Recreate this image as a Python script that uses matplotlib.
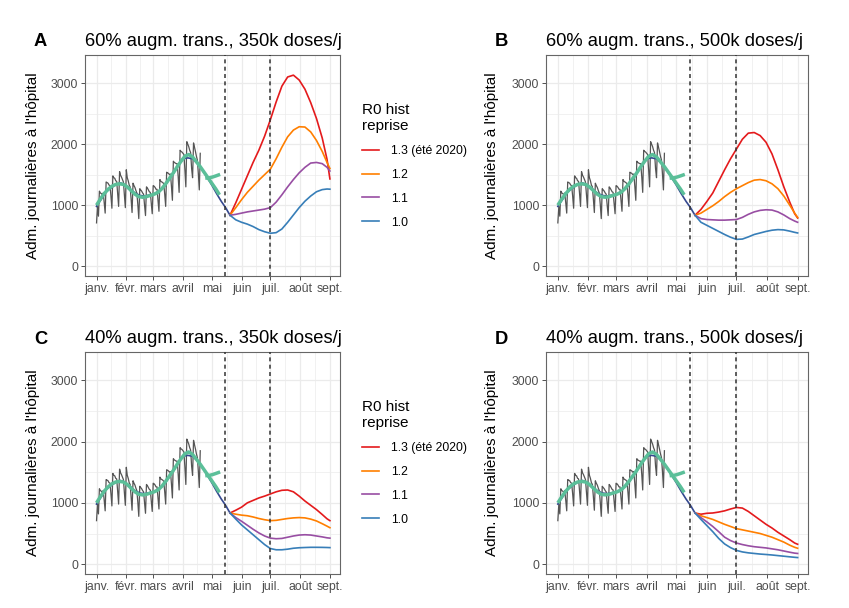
import matplotlib
matplotlib.use("Agg")
import matplotlib.pyplot as plt

plt.rcParams['font.family'] = ['Liberation Sans', 'DejaVu Sans']

# ---------------- data ----------------
month_days = [0, 31, 59, 90, 120, 151, 181, 212, 243]
month_labels = ["janv.", "févr.", "mars", "avril", "mai", "juin", "juil.", "août", "sept."]
y_ticks = [0, 1000, 2000, 3000]

obs_days = list(range(0, 109))
obs_values = [
    710, 980, 820, 1230, 1200, 1190, 1170,
    1200, 1040, 870, 1380, 1370, 1360, 1330,
    1320, 1150, 950, 1480, 1450, 1440, 1400,
    1390, 1190, 980, 1550, 1490, 1460, 1420,
    1380, 1170, 960, 1580, 1450, 1400, 1330,
    1300, 1100, 880, 1360, 1320, 1290, 1240,
    1200, 1010, 780, 1270, 1250, 1230, 1200,
    1180, 1000, 830, 1300, 1280, 1250, 1220,
    1210, 1030, 860, 1320, 1310, 1290, 1260,
    1260, 1080, 900, 1420, 1390, 1380, 1370,
    1350, 1180, 980, 1540, 1530, 1520, 1500,
    1510, 1310, 1080, 1720, 1700, 1690, 1680,
    1680, 1470, 1210, 1900, 1880, 1870, 1850,
    1830, 1580, 1300, 2040, 2000, 1960, 1900,
    1860, 1600, 1450, 2020, 1950, 1880, 1800,
    1740, 1520, 1250, 1850,
]

smooth_days = [0, 4, 8, 12, 16, 20, 24, 28, 32, 36, 40, 44, 48, 52, 56, 60, 64,
               68, 72, 76, 80, 84, 88, 92, 96, 100, 104, 108, 112, 116, 120, 124, 128]
smooth_values = [1000, 1100, 1190, 1260, 1310, 1340, 1350, 1340, 1300, 1240, 1180,
                 1140, 1130, 1140, 1160, 1180, 1210, 1270, 1350, 1440, 1530, 1630,
                 1720, 1800, 1830, 1790, 1710, 1630, 1540, 1450, 1360, 1270, 1170]
hook_days = [115, 118, 121, 124, 127]
hook_values = [1445, 1450, 1462, 1478, 1495]

fit_days = [0, 10, 20, 25, 30, 40, 45, 50, 60, 70, 80, 85, 90, 95, 100, 105, 110,
            115, 120, 125, 130, 134, 139]
fit_values = [980, 1220, 1340, 1365, 1330, 1200, 1160, 1150, 1180, 1290, 1520, 1650,
              1760, 1775, 1760, 1690, 1580, 1460, 1330, 1190, 1060, 970, 835]

proj_days = [139, 145, 151, 157, 163, 169, 175, 181, 187, 193, 199, 205, 211, 217,
             223, 229, 235, 240, 243]

scenario_labels = ["1.3 (été 2020)", "1.2", "1.1", "1.0"]
scenario_colors = ["#E41A1C", "#FF7F00", "#984EA3", "#377EB8"]

a_13 = [835, 1040, 1260, 1480, 1700, 1900, 2130, 2400, 2690, 2950, 3100, 3130, 3050, 2900, 2680, 2420, 2100, 1750, 1430]
a_12 = [835, 960, 1090, 1210, 1310, 1410, 1500, 1590, 1760, 1950, 2120, 2230, 2285, 2280, 2200, 2060, 1880, 1700, 1600]
a_11 = [835, 850, 870, 890, 905, 920, 935, 960, 1050, 1170, 1300, 1420, 1530, 1620, 1690, 1700, 1680, 1620, 1560]
a_10 = [835, 760, 720, 690, 650, 600, 565, 540, 550, 610, 720, 840, 960, 1065, 1150, 1220, 1255, 1265, 1262]

b_13 = [835, 930, 1060, 1200, 1390, 1580, 1760, 1920, 2080, 2180, 2190, 2140, 2030, 1840, 1580, 1300, 1050, 860, 790]
b_12 = [835, 870, 930, 990, 1060, 1140, 1210, 1270, 1320, 1370, 1410, 1420, 1400, 1350, 1270, 1150, 1000, 870, 800]
b_11 = [835, 780, 765, 760, 755, 755, 760, 765, 800, 850, 890, 915, 925, 920, 890, 840, 780, 740, 720]
b_10 = [835, 720, 670, 620, 570, 520, 475, 440, 445, 480, 520, 545, 570, 590, 600, 595, 575, 555, 545]

c_13 = [835, 880, 930, 1000, 1040, 1080, 1110, 1145, 1180, 1205, 1210, 1180, 1110, 1030, 960, 890, 810, 740, 710]
c_12 = [835, 815, 800, 790, 770, 745, 725, 710, 715, 730, 745, 755, 760, 755, 735, 705, 660, 620, 595]
c_11 = [835, 760, 700, 635, 570, 510, 460, 425, 415, 420, 440, 460, 475, 480, 475, 460, 445, 430, 425]
c_10 = [835, 735, 640, 560, 480, 400, 320, 255, 235, 235, 245, 260, 268, 272, 275, 275, 274, 272, 270]

d_13 = [835, 815, 830, 835, 850, 870, 900, 925, 915, 860, 790, 720, 650, 590, 520, 460, 400, 345, 325]
d_12 = [835, 790, 760, 730, 690, 650, 615, 580, 560, 540, 520, 500, 470, 440, 400, 360, 310, 275, 260]
d_11 = [835, 760, 690, 615, 530, 440, 385, 345, 320, 300, 285, 275, 265, 250, 235, 215, 195, 180, 175]
d_10 = [835, 730, 630, 530, 420, 330, 270, 225, 200, 185, 175, 165, 158, 150, 140, 130, 120, 112, 108]

vline_days = [134, 181]

panel_tags = ["A", "B", "C", "D"]
panel_titles = ["60% augm. trans., 350k doses/j", "60% augm. trans., 500k doses/j",
                "40% augm. trans., 350k doses/j", "40% augm. trans., 500k doses/j"]
panel_series = [[a_13, a_12, a_11, a_10], [b_13, b_12, b_11, b_10],
                [c_13, c_12, c_11, c_10], [d_13, d_12, d_11, d_10]]
ylabel = "Adm. journalières à l'hôpital"

# ---------------- layout ----------------
W, H = 849, 608
fig = plt.figure(figsize=(W / 100, H / 100), dpi=100)

boxes = [(85, 55, 340, 276), (546, 55, 808, 276), (85, 352, 340, 574), (546, 352, 808, 574)]
tag_pos = [(34, 46), (495, 46), (34, 343.5), (495, 343.5)]
legend_pos = [(362, 103), None, (362, 400), None]

green = "#5BBF99"
grid_c = "#EBEBEB"
minor_x = [(month_days[i] + month_days[i + 1]) / 2 for i in range(len(month_days) - 1)]

for k in range(4):
    l, t, r, b = boxes[k]
    ax = fig.add_axes([l / W, 1 - b / H, (r - l) / W, (b - t) / H])
    ax.set_xlim(-12, 253.5)
    ax.set_ylim(-160, 3460)
    ax.set_xticks(month_days)
    ax.set_xticklabels(month_labels)
    ax.set_yticks(y_ticks)
    ax.set_xticks(minor_x, minor=True)
    ax.set_yticks([500, 1500, 2500], minor=True)
    ax.grid(which="major", color=grid_c, lw=0.9)
    ax.grid(which="minor", color=grid_c, lw=0.5)
    ax.set_axisbelow(True)
    ax.tick_params(which="minor", length=0)
    ax.tick_params(which="major", length=2.75, width=0.6, color="#333333",
                   labelsize=8.8, labelcolor="#4D4D4D", pad=2.2)
    for s in ax.spines.values():
        s.set_color("#666666")
        s.set_linewidth(0.8)

    ax.plot(obs_days, obs_values, color="#555555", lw=0.9, zorder=2)
    ax.plot(fit_days, fit_values, color="#34488F", lw=1.2, zorder=3)
    ax.plot(smooth_days, smooth_values, color=green, lw=2.5, zorder=4,
            solid_capstyle="butt")
    ax.plot(hook_days, hook_values, color=green, lw=2.5, zorder=4)

    handles = []
    for vals, col, lab in zip(panel_series[k], scenario_colors, scenario_labels):
        h, = ax.plot(proj_days, vals, color=col, lw=1.2, label=lab, zorder=3)
        handles.append(h)

    for vd in vline_days:
        ax.axvline(vd, color="#333333", lw=1.1, ls=(0, (2.6, 2.2)), zorder=5)

    ax.set_ylabel(ylabel, fontsize=11, color="black")
    ax.yaxis.set_label_coords(-0.177 if k in (0, 2) else -0.18, 0.5)
    ax.set_title(panel_titles[k], loc="left", fontsize=13.2, pad=6.4)
    fig.text(tag_pos[k][0] / W, 1 - tag_pos[k][1] / H, panel_tags[k],
             fontsize=13.2, fontweight="bold", va="baseline", ha="left")

    if legend_pos[k] is not None:
        lx, ly = legend_pos[k]
        leg = ax.legend(handles=handles, title="R0 hist\nreprise", loc="upper left",
                        bbox_to_anchor=(lx / W, 1 - ly / H),
                        bbox_transform=fig.transFigure, frameon=False,
                        fontsize=8.8, title_fontsize=11, handlelength=1.4,
                        handletextpad=1.0, labelspacing=0.97, borderpad=0,
                        borderaxespad=0)
        leg._legend_box.align = "left"
        leg.get_title().set_multialignment("left")

fig.savefig("out.png", dpi=100)
